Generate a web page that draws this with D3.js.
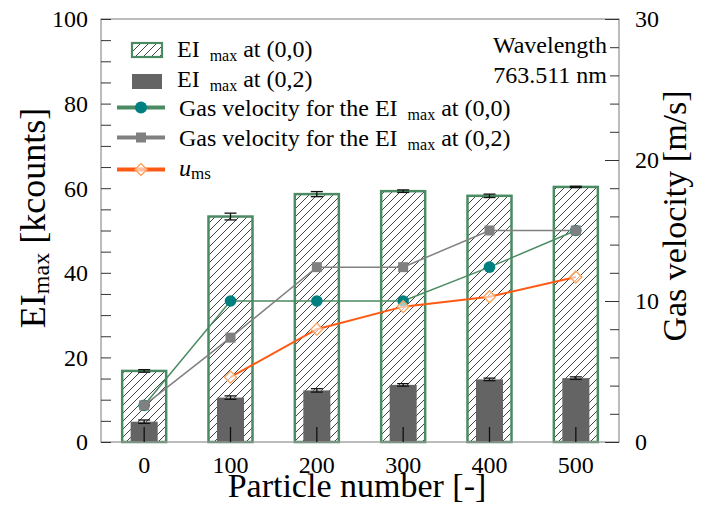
<!DOCTYPE html>
<html>
<head>
<meta charset="utf-8">
<script src="https://cdn.jsdelivr.net/npm/d3@7"></script>
<style>
  body { margin: 0; background: #fff; }
  svg text { font-family: "Liberation Serif", "DejaVu Serif", "Times New Roman", serif; }
</style>
</head>
<body>
<div id="chart"></div>
<script>
// data
const particles = [0, 100, 200, 300, 400, 500];
const eiMax00 = [16.8, 53.3, 58.6, 59.3, 58.2, 60.3];
const eiMax00Err = [0.3, 0.8, 0.6, 0.3, 0.4, 0.15];
const eiMax02 = [4.8, 10.5, 12.2, 13.5, 14.8, 15.1];
const eiMax02Err = [0.4, 0.4, 0.4, 0.3, 0.3, 0.3];
const gasVel00 = [2.6, 10, 10, 10, 12.4, 15];
const gasVel02 = [2.6, 7.4, 12.4, 12.4, 15, 15];
const umsParticles = [100, 200, 300, 400, 500];
const ums = [4.6, 8.0, 9.6, 10.3, 11.7];
const leftTicks = [0, 20, 40, 60, 80, 100];
const rightTicks = [0, 10, 20, 30];

const W = 702, H = 518;
const plotLeft = 101, plotRight = 619, plotTop = 19, plotBottom = 442;
const serif = "'Liberation Serif', 'DejaVu Serif', 'Times New Roman', serif";

const green = "#4a8b63", teal = "#008080", grey = "#808080", orange = "#ff5a14";

const svg = d3.select("#chart").append("svg")
    .attr("width", W)
    .attr("height", H)
    .attr("font-family", serif);

const defs = svg.append("defs");
defs.append("pattern")
    .attr("id", "hatch")
    .attr("patternUnits", "userSpaceOnUse")
    .attr("width", 8)
    .attr("height", 8)
    .append("path")
    .attr("d", "M-2,2 l4,-4 M0,8 l8,-8 M6,10 l4,-4")
    .attr("stroke", "#444")
    .attr("stroke-width", 1);

const x = d3.scaleBand().domain(particles).range([plotLeft, plotRight]);
const y = d3.scaleLinear().domain([0, 100]).range([plotBottom, plotTop]);
const y2 = d3.scaleLinear().domain([0, 30]).range([plotBottom, plotTop]);
const cx = d => x(d) + x.bandwidth() / 2;

const wide = 44, narrow = 27, cap = 6;

// hatched bars (0,0)
svg.append("g").selectAll("rect")
    .data(particles)
    .join("rect")
    .attr("x", d => cx(d) - wide / 2)
    .attr("y", (d, i) => y(eiMax00[i]))
    .attr("width", wide)
    .attr("height", (d, i) => plotBottom - y(eiMax00[i]))
    .attr("fill", "url(#hatch)")
    .attr("stroke", green)
    .attr("stroke-width", 2.5);

// solid bars (0,2)
svg.append("g").selectAll("rect")
    .data(particles)
    .join("rect")
    .attr("x", d => cx(d) - narrow / 2)
    .attr("y", (d, i) => y(eiMax02[i]))
    .attr("width", narrow)
    .attr("height", (d, i) => plotBottom - y(eiMax02[i]))
    .attr("fill", "#646464");

// error bars
function errorBars(vals, errs) {
    const g = svg.append("g").attr("stroke", "#111").attr("stroke-width", 1.3);
    particles.forEach((p, i) => {
        const lo = y(vals[i] - errs[i]), hi = y(vals[i] + errs[i]);
        g.append("line").attr("x1", cx(p)).attr("x2", cx(p)).attr("y1", lo).attr("y2", hi);
        g.append("line").attr("x1", cx(p) - cap).attr("x2", cx(p) + cap).attr("y1", lo).attr("y2", lo);
        g.append("line").attr("x1", cx(p) - cap).attr("x2", cx(p) + cap).attr("y1", hi).attr("y2", hi);
    });
}
errorBars(eiMax00, eiMax00Err);
errorBars(eiMax02, eiMax02Err);

// frame
svg.append("rect")
    .attr("x", plotLeft).attr("y", plotTop)
    .attr("width", plotRight - plotLeft).attr("height", plotBottom - plotTop)
    .attr("fill", "none")
    .attr("stroke", "#999")
    .attr("stroke-width", 1.3);

// left axis
const yAxis = svg.append("g")
    .attr("transform", `translate(${plotLeft},0)`)
    .call(d3.axisRight(y).tickValues(d3.range(0, 101, 5)).tickSize(10).tickFormat(""));
yAxis.select(".domain").remove();
yAxis.selectAll("line").attr("stroke", "#333");
svg.append("g").selectAll("text")
    .data(leftTicks)
    .join("text")
    .attr("x", 88)
    .attr("y", d => y(d))
    .attr("dy", "0.35em")
    .attr("text-anchor", "end")
    .style("font-size", "24px")
    .text(d => d);

// right axis
const y2Axis = svg.append("g")
    .attr("transform", `translate(${plotRight},0)`)
    .call(d3.axisLeft(y2).tickValues(d3.range(0, 31, 2)).tickSize(9).tickFormat(""));
y2Axis.select(".domain").remove();
y2Axis.selectAll("line").attr("stroke", "#333");
const y2Major = svg.append("g")
    .attr("transform", `translate(${plotRight},0)`)
    .call(d3.axisLeft(y2).tickValues(rightTicks).tickSize(14).tickFormat(""));
y2Major.select(".domain").remove();
y2Major.selectAll("line").attr("stroke", "#333");
svg.append("g").selectAll("text")
    .data(rightTicks)
    .join("text")
    .attr("x", 635)
    .attr("y", d => y2(d))
    .attr("dy", "0.35em")
    .style("font-size", "24px")
    .text(d => d);

// bottom axis
const xAxis = svg.append("g")
    .attr("transform", `translate(0,${plotBottom})`)
    .call(d3.axisTop(x).tickSize(15).tickFormat(""));
xAxis.select(".domain").remove();
xAxis.selectAll("line").attr("stroke", "#111").attr("stroke-width", 1.3);
svg.append("g").selectAll("text")
    .data(particles)
    .join("text")
    .attr("x", d => cx(d))
    .attr("y", 473)
    .attr("text-anchor", "middle")
    .style("font-size", "24px")
    .text(d => d);

// velocity lines
const line = (ys) => d3.line().x(d => cx(d)).y((d, i) => y2(ys[i]));

svg.append("path")
    .datum(particles)
    .attr("fill", "none")
    .attr("stroke", green)
    .attr("stroke-width", 1.5)
    .attr("d", line(gasVel00));
svg.append("g").selectAll("circle")
    .data(particles)
    .join("circle")
    .attr("cx", d => cx(d))
    .attr("cy", (d, i) => y2(gasVel00[i]))
    .attr("r", 5.8)
    .attr("fill", teal);

svg.append("path")
    .datum(particles)
    .attr("fill", "none")
    .attr("stroke", grey)
    .attr("stroke-width", 1.5)
    .attr("d", line(gasVel02));
svg.append("g").selectAll("rect")
    .data(particles)
    .join("rect")
    .attr("x", d => cx(d) - 5)
    .attr("y", (d, i) => y2(gasVel02[i]) - 5)
    .attr("width", 10)
    .attr("height", 10)
    .attr("fill", grey);

svg.append("path")
    .datum(umsParticles)
    .attr("fill", "none")
    .attr("stroke", orange)
    .attr("stroke-width", 2)
    .attr("d", line(ums));
const diamond = d3.symbol().type(d3.symbolSquare).size(72);
svg.append("g").selectAll("path")
    .data(umsParticles)
    .join("path")
    .attr("d", diamond)
    .attr("transform", (d, i) => `translate(${cx(d)},${y2(ums[i])}) rotate(45)`)
    .attr("fill", "rgba(255,255,255,0.6)")
    .attr("stroke", "#ffa055")
    .attr("stroke-width", 1.3);

// legend
const leg = svg.append("g").style("font-size", "24px");
leg.append("rect").attr("x", 132).attr("y", 43).attr("width", 30).attr("height", 14)
    .attr("fill", "url(#hatch)").attr("stroke", green).attr("stroke-width", 2.2);
leg.append("rect").attr("x", 132).attr("y", 74).attr("width", 30).attr("height", 15)
    .attr("fill", "#646464");

function eiLabel(xp, yp, pre, post) {
    const t = leg.append("text").attr("x", xp).attr("y", yp);
    t.append("tspan").text(pre + "EI ");
    t.append("tspan").attr("dx", 4).attr("dy", 4).style("font-size", "16px").text("max");
    t.append("tspan").attr("dy", -4).text(" at " + post);
}
eiLabel(177, 57, "", "(0,0)");
eiLabel(177, 87, "", "(0,2)");

leg.append("line").attr("x1", 117).attr("x2", 165).attr("y1", 107.5).attr("y2", 107.5)
    .attr("stroke", green).attr("stroke-width", 4);
leg.append("circle").attr("cx", 141).attr("cy", 107.5).attr("r", 6).attr("fill", teal);
eiLabel(179, 116, "Gas velocity for the ", "(0,0)");

leg.append("line").attr("x1", 117).attr("x2", 165).attr("y1", 137.5).attr("y2", 137.5)
    .attr("stroke", grey).attr("stroke-width", 4);
leg.append("rect").attr("x", 136).attr("y", 132.5).attr("width", 10).attr("height", 10).attr("fill", grey);
eiLabel(179, 146, "Gas velocity for the ", "(0,2)");

leg.append("line").attr("x1", 117).attr("x2", 165).attr("y1", 169.5).attr("y2", 169.5)
    .attr("stroke", orange).attr("stroke-width", 4);
leg.append("path").attr("d", diamond)
    .attr("transform", "translate(141,169.5) rotate(45)")
    .attr("fill", "rgba(255,255,255,0.6)").attr("stroke", "#ffa055").attr("stroke-width", 1.3);
const ut = leg.append("text").attr("x", 179).attr("y", 176);
ut.append("tspan").style("font-style", "italic").text("u");
ut.append("tspan").attr("dy", 3).style("font-size", "17px").text("ms");

// wavelength note
svg.append("text").attr("x", 607).attr("y", 53).attr("text-anchor", "end")
    .style("font-size", "24px").text("Wavelength");
svg.append("text").attr("x", 607).attr("y", 83).attr("text-anchor", "end")
    .style("font-size", "24px").text("763.511 nm");

// axis titles
svg.append("text").attr("x", 357).attr("y", 497).attr("text-anchor", "middle")
    .style("font-size", "34px").text("Particle number [-]");

const lt = svg.append("text")
    .attr("transform", "translate(45,218) rotate(-90)")
    .attr("text-anchor", "middle")
    .style("font-size", "36px");
lt.append("tspan").text("EI");
lt.append("tspan").attr("dy", 4).style("font-size", "24px").text("max");
lt.append("tspan").attr("dy", -4).text(" [kcounts]");

svg.append("text")
    .attr("transform", "translate(686,216) rotate(-90)")
    .attr("text-anchor", "middle")
    .style("font-size", "34px")
    .text("Gas velocity [m/s]");

svg.selectAll("text").attr("font-family", serif);
</script>
</body>
</html>
